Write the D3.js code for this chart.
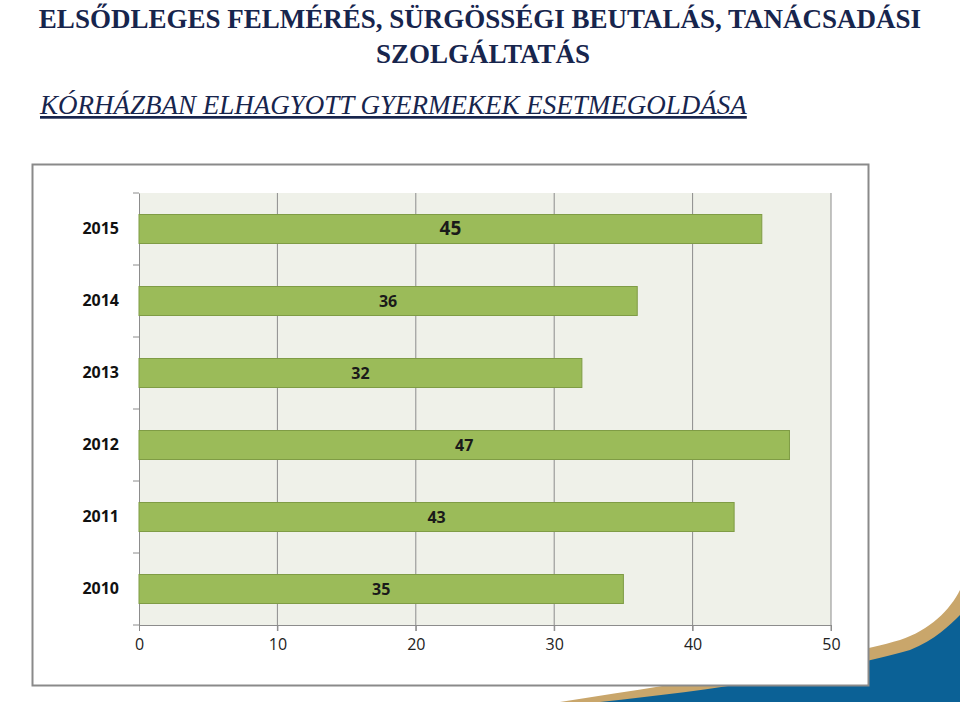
<!DOCTYPE html>
<html><head><meta charset="utf-8">
<script src="https://d3js.org/d3.v7.min.js"></script>
<style>body{margin:0;background:#fff}</style></head>
<body><svg id="c" width="960" height="702"></svg>
<script>
const years = ["2015","2014","2013","2012","2011","2010"];
const values = [45,36,32,47,43,35];
const ticks = [0,10,20,30,40,50];

const svg = d3.select("#c");
const navy = "#17254d";
// decoration
svg.append("path").attr("d","M560,702 C700,680 830,660 900,640 C930,630 950,610 960,590 L960,702 Z").attr("fill","#c9a66b");
svg.append("path").attr("d","M600,702 C720,690 840,670 910,650 C935,640 950,625 960,615 L960,702 Z").attr("fill","#0b6196");

svg.append("text").attr("x",480).attr("y",28).attr("text-anchor","middle")
  .attr("font-family","Liberation Serif, serif").attr("font-weight","bold").attr("font-size",27).attr("fill",navy)
  .text("ELSŐDLEGES FELMÉRÉS, SÜRGÖSSÉGI BEUTALÁS, TANÁCSADÁSI");
svg.append("text").attr("x",483).attr("y",63).attr("text-anchor","middle")
  .attr("font-family","Liberation Serif, serif").attr("font-weight","bold").attr("font-size",27).attr("fill",navy)
  .text("SZOLGÁLTATÁS");
svg.append("text").attr("x",40).attr("y",114)
  .attr("font-family","Liberation Serif, serif").attr("font-style","italic").attr("font-size",27).attr("fill",navy)
  .attr("text-decoration","underline").text("KÓRHÁZBAN ELHAGYOTT GYERMEKEK ESETMEGOLDÁSA");

svg.append("rect").attr("x",32.5).attr("y",164.5).attr("width",836).attr("height",521)
  .attr("fill","#fff").attr("stroke","#8a8a8a").attr("stroke-width",2);

const x = d3.scaleLinear().domain([0,50]).range([139,831]);
const y = d3.scaleBand().domain(years).range([193,625]);
svg.append("rect").attr("x",139).attr("y",193).attr("width",692).attr("height",432).attr("fill","#eff1e9");
svg.selectAll(".g").data(ticks.slice(1)).join("line").attr("x1",d=>x(d)).attr("x2",d=>x(d))
  .attr("y1",193).attr("y2",631).attr("stroke","#8c8c8c");
const ax = svg.append("g").attr("transform","translate(0,625)")
  .call(d3.axisBottom(x).tickValues(ticks).tickSize(6).tickPadding(8));
ax.select(".domain").attr("stroke","#8c8c8c");
ax.selectAll("line").attr("stroke","#8c8c8c");
ax.selectAll("text").attr("font-family","Open Sans, sans-serif").attr("font-size",16).attr("fill","#222");
const ay = svg.append("g").attr("transform","translate(139,0)")
  .call(d3.axisLeft(y).tickSize(0).tickPadding(20));
ay.select(".domain").attr("stroke","#8c8c8c");
ay.selectAll("text").attr("font-family","Open Sans, sans-serif").attr("font-weight","bold").attr("font-size",16).attr("fill","#111");
svg.selectAll(".yt").data(d3.range(7)).join("line").attr("x1",133).attr("x2",139)
  .attr("y1",d=>193+d*72).attr("y2",d=>193+d*72).attr("stroke","#8c8c8c");

svg.selectAll(".bar").data(years).join("rect")
  .attr("x",x(0)).attr("y",d=>y(d)+y.bandwidth()/2-14.5).attr("height",29)
  .attr("width",(d,i)=>x(values[i])-x(0)).attr("fill","#9bbb59").attr("stroke","#7f9c45");
svg.selectAll(".lbl").data(years).join("text")
  .attr("x",(d,i)=>(x(0)+x(values[i]))/2).attr("y",d=>y(d)+y.bandwidth()/2+6)
  .attr("text-anchor","middle").attr("font-family","Open Sans, sans-serif").attr("font-weight","bold")
  .attr("font-size",(d,i)=>i==0?19:16).attr("fill","#1a1a1a").text((d,i)=>values[i]);
</script></body></html>
